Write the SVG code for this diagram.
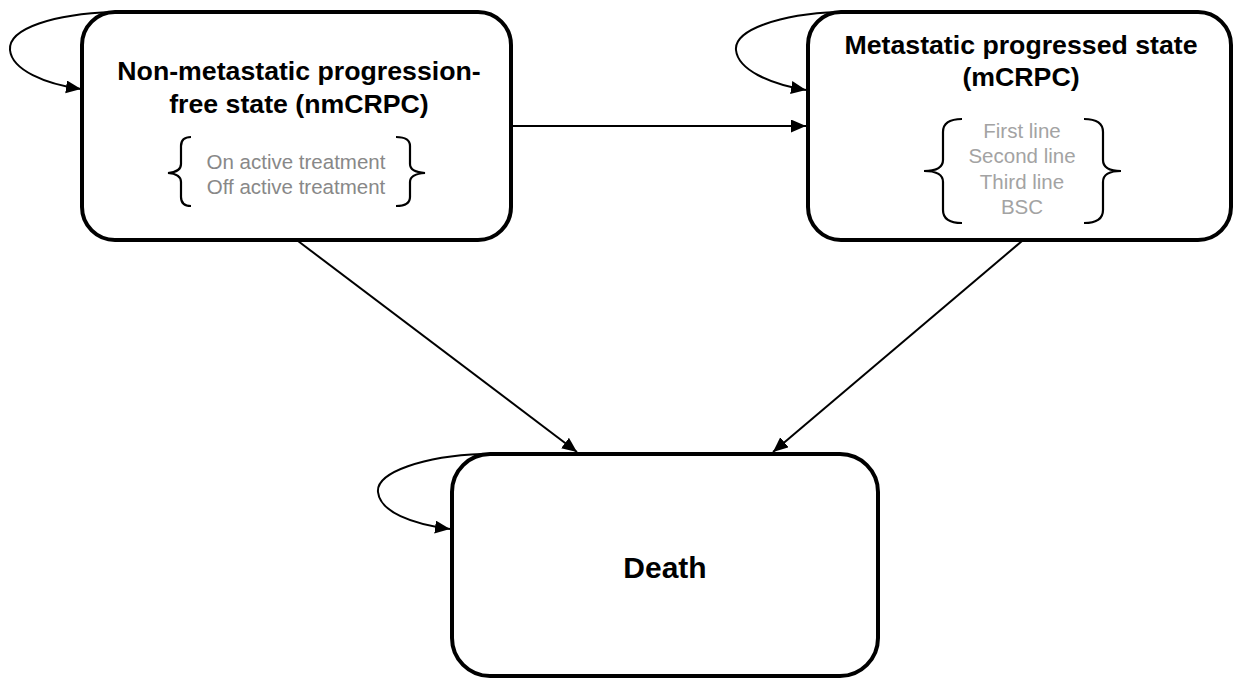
<svg xmlns="http://www.w3.org/2000/svg" width="1234" height="679" viewBox="0 0 1234 679">
<style>
.box{fill:#fff;stroke:#000;stroke-width:4}
.title{font-family:"Liberation Sans",Arial,sans-serif;font-weight:bold;font-size:26.7px;fill:#000;text-anchor:middle}
.sub{font-family:"Liberation Sans",Arial,sans-serif;font-size:20.5px;text-anchor:middle}
.brace{fill:none;stroke:#000;stroke-width:2.2}
.conn{fill:none;stroke:#000;stroke-width:2;marker-end:url(#arr)}
</style>
<defs>
<marker id="arr" markerUnits="userSpaceOnUse" markerWidth="16" markerHeight="14" refX="15" refY="6.5" orient="auto">
<path d="M0,0 L15,6.5 L0,13 z" fill="#000"/>
</marker>
</defs>
<rect width="1234" height="679" fill="#fff"/>
<g id="connectors">
<path class="conn" d="M113,12 C55,14 8,28 10,50 C12,70 45,84 81,89"/>
<path class="conn" d="M838,12 C780,14 734,30 736,50 C738,70 770,84 806,90"/>
<path class="conn" d="M482,454 C425,456 376,472 378,492 C380,512 412,524 450,529"/>
<path class="conn" d="M513,126 L806,126"/>
<path class="conn" d="M298,241 L577,452"/>
<path class="conn" d="M1022,241 L773,452"/>
</g>
<g id="node-nmcrpc">
<rect class="box" x="82" y="12" width="429" height="228" rx="33"/>
<text class="title" x="299" y="80">Non-metastatic progression-</text>
<text class="title" x="299" y="113">free state (nmCRPC)</text>
<path class="brace" d="M191,137 Q181,137 181,146 L181,164 Q181,172 168,173 Q181,174 181,182 L181,197 Q181,206 191,206"/>
<path class="brace" d="M396,137 Q410,137 410,146 L410,164 Q410,172 425,173 Q410,174 410,182 L410,197 Q410,206 396,206"/>
<text class="sub" x="296" y="169" fill="#888888">On active treatment</text>
<text class="sub" x="296" y="194" fill="#888888">Off active treatment</text>
</g>
<g id="node-mcrpc">
<rect class="box" x="808" y="12" width="423" height="228" rx="33"/>
<text class="title" x="1021" y="54">Metastatic progressed state</text>
<text class="title" x="1021" y="86">(mCRPC)</text>
<path class="brace" d="M962,119 Q943,119 943,132 L943,160 Q943,171 924,171 Q943,171 943,182 L943,210 Q943,223 962,223"/>
<path class="brace" d="M1084,119 Q1103,119 1103,132 L1103,160 Q1103,171 1121,171 Q1103,171 1103,182 L1103,210 Q1103,223 1084,223"/>
<text class="sub" x="1022" y="138" fill="#a3a3a3">First line</text>
<text class="sub" x="1022" y="163" fill="#a3a3a3">Second line</text>
<text class="sub" x="1022" y="189" fill="#a3a3a3">Third line</text>
<text class="sub" x="1022" y="214" fill="#a3a3a3">BSC</text>
</g>
<g id="node-death">
<rect class="box" x="452" y="454" width="426" height="222" rx="38"/>
<text class="title" x="665" y="578" style="font-size:30px">Death</text>
</g>
</svg>
